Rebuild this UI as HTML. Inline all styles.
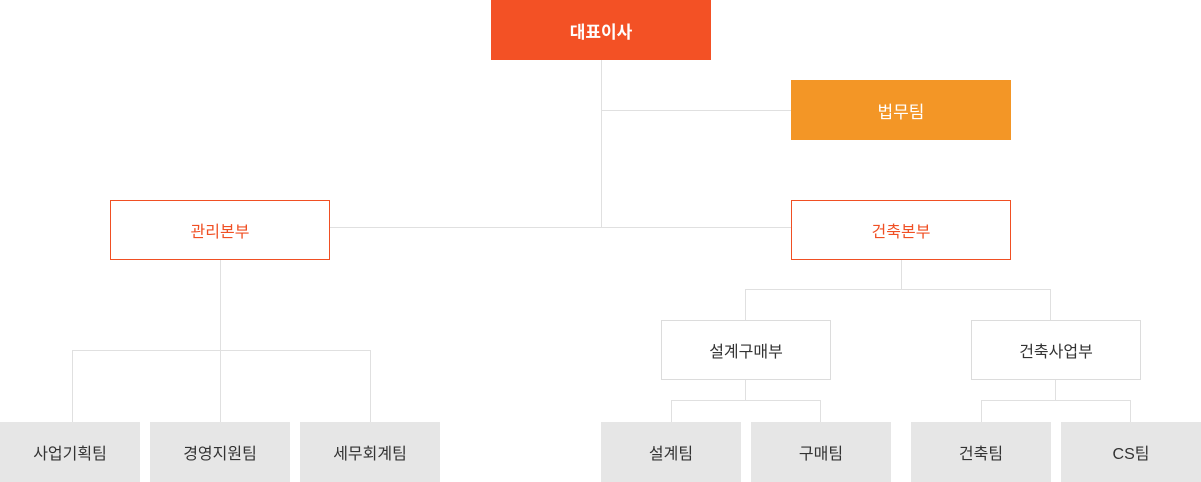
<!DOCTYPE html>
<html><head><meta charset="utf-8"><style>
body{margin:0;width:1201px;height:482px;background:#fff;position:relative;overflow:hidden;font-family:"Liberation Sans","Noto Sans CJK KR",sans-serif;}
.b{position:absolute;box-sizing:border-box;display:flex;align-items:center;justify-content:center;font-size:16px;}
.l{position:absolute;background:#e0e0e0;}
.g{background:#e6e6e6;color:#333;height:60px;width:140px;top:422px;}
.w{background:#fff;border:1px solid #dcdcdc;color:#333;height:60px;width:170px;top:320px;}
.o{background:#fff;border:1px solid #f04f23;color:#f04f23;height:60px;width:220px;top:200px;}
</style></head><body>
<div class="l" style="left:601px;top:60px;width:1px;height:167px"></div>
<div class="l" style="left:601px;top:110px;width:190px;height:1px"></div>
<div class="l" style="left:330px;top:227px;width:461px;height:1px"></div>
<div class="l" style="left:220px;top:260px;width:1px;height:162px"></div>
<div class="l" style="left:72px;top:350px;width:298px;height:1px"></div>
<div class="l" style="left:72px;top:350px;width:1px;height:72px"></div>
<div class="l" style="left:370px;top:350px;width:1px;height:72px"></div>
<div class="l" style="left:901px;top:260px;width:1px;height:30px"></div>
<div class="l" style="left:745px;top:289px;width:305px;height:1px"></div>
<div class="l" style="left:745px;top:289px;width:1px;height:31px"></div>
<div class="l" style="left:1050px;top:289px;width:1px;height:31px"></div>
<div class="l" style="left:745px;top:380px;width:1px;height:20px"></div>
<div class="l" style="left:671px;top:400px;width:150px;height:1px"></div>
<div class="l" style="left:671px;top:400px;width:1px;height:22px"></div>
<div class="l" style="left:820px;top:400px;width:1px;height:22px"></div>
<div class="l" style="left:1055px;top:380px;width:1px;height:20px"></div>
<div class="l" style="left:981px;top:400px;width:150px;height:1px"></div>
<div class="l" style="left:981px;top:400px;width:1px;height:22px"></div>
<div class="l" style="left:1130px;top:400px;width:1px;height:22px"></div>

<div class="b" style="left:491px;top:0;width:220px;height:60px;background:#f35125;color:#fff;font-weight:bold;font-size:17px">대표이사</div>
<div class="b" style="left:791px;top:80px;width:220px;height:60px;background:#f39626;color:#fff;font-size:17px">법무팀</div>
<div class="b o" style="left:110px">관리본부</div>
<div class="b o" style="left:791px">건축본부</div>
<div class="b w" style="left:661px">설계구매부</div>
<div class="b w" style="left:971px">건축사업부</div>
<div class="b g" style="left:0">사업기획팀</div>
<div class="b g" style="left:150px">경영지원팀</div>
<div class="b g" style="left:300px">세무회계팀</div>
<div class="b g" style="left:601px">설계팀</div>
<div class="b g" style="left:751px">구매팀</div>
<div class="b g" style="left:911px">건축팀</div>
<div class="b g" style="left:1061px">CS팀</div>
</body></html>
